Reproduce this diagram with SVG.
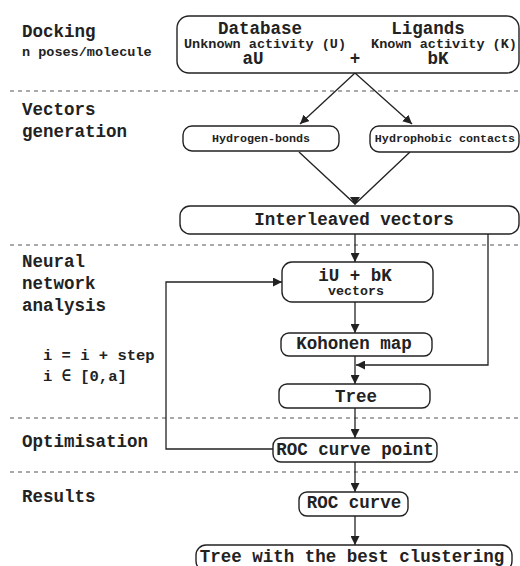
<svg xmlns="http://www.w3.org/2000/svg" width="520" height="566" viewBox="0 0 520 566">
<defs>
<marker id="ah" viewBox="0 0 10 10" refX="10" refY="5" markerWidth="9" markerHeight="9" markerUnits="userSpaceOnUse" orient="auto">
<path d="M0,0 L10,5 L0,10 z" fill="#222"/>
</marker>
<style>
text{font-family:"Liberation Mono","DejaVu Sans Mono",monospace;font-weight:bold;fill:#222}
.l{font-size:17.5px}
.m{font-size:13.5px}
.s{font-size:11.7px}
.c{text-anchor:middle}
.box{fill:#fff;stroke:#222;stroke-width:1.4}
.sep{stroke:#555;stroke-width:1.2;stroke-dasharray:4 4;fill:none}
.con{stroke:#222;stroke-width:1.3;fill:none}
</style>
</defs>
<rect width="520" height="566" fill="#fff"/>
<g id="separators">
<line class="sep" x1="10" y1="91" x2="520" y2="91"/>
<line class="sep" x1="10" y1="245" x2="520" y2="245"/>
<line class="sep" x1="10" y1="418" x2="520" y2="418"/>
<line class="sep" x1="10" y1="472" x2="520" y2="472"/>
</g>
<g id="labels">
<text class="l" x="22" y="37">Docking</text>
<text class="m" x="22" y="56">n poses/molecule</text>
<text class="l" x="22" y="115">Vectors</text>
<text class="l" x="22" y="137">generation</text>
<text class="l" x="22" y="267">Neural</text>
<text class="l" x="22" y="289">network</text>
<text class="l" x="22" y="311">analysis</text>
<text x="43" y="360" style="font-size:15.5px">i = i + step</text>
<text x="43" y="381" style="font-size:15.5px">i ∈ [0,a]</text>
<text class="l" x="22" y="447">Optimisation</text>
<text class="l" x="22" y="502">Results</text>
</g>
<g id="connectors">
<line class="con" x1="355" y1="73" x2="300" y2="124" marker-end="url(#ah)"/>
<line class="con" x1="355" y1="73" x2="412" y2="124" marker-end="url(#ah)"/>
<polyline class="con" points="299,152 355,204 410,152"/>
<path d="M350,197 L360,197 L355,205 z" fill="#222"/>
<line class="con" x1="355" y1="234" x2="355" y2="262" marker-end="url(#ah)"/>
<polyline class="con" points="488,234 488,365 356,365" marker-end="url(#ah)"/>
<line class="con" x1="355" y1="302" x2="355" y2="333" marker-end="url(#ah)"/>
<line class="con" x1="355" y1="356" x2="355" y2="384" marker-end="url(#ah)"/>
<line class="con" x1="355" y1="408" x2="355" y2="438" marker-end="url(#ah)"/>
<polyline class="con" points="273,449 166,449 166,282 282,282" marker-end="url(#ah)"/>
<line class="con" x1="355" y1="462" x2="355" y2="492" marker-end="url(#ah)"/>
<line class="con" x1="355" y1="516" x2="355" y2="545" marker-end="url(#ah)"/>
</g>
<g id="docking">
<rect class="box" x="177" y="16" width="342" height="57" rx="12"/>
<text class="l c" x="260" y="34">Database</text>
<text class="l c" x="428" y="34">Ligands</text>
<text class="m c" x="265" y="47.5">Unknown activity (U)</text>
<text class="m c" x="444" y="47.5">Known activity (K)</text>
<text class="l c" x="253" y="64">aU</text>
<text class="l c" x="355" y="64">+</text>
<text class="l c" x="438" y="64">bK</text>
</g>
<g id="hbonds">
<rect class="box" x="183" y="126" width="156" height="25" rx="9"/>
<text class="s c" x="261" y="142">Hydrogen-bonds</text>
</g>
<g id="hydrophobic">
<rect class="box" x="370" y="126" width="149" height="26" rx="9"/>
<text class="s c" x="445" y="142">Hydrophobic contacts</text>
</g>
<g id="interleaved">
<rect class="box" x="180" y="206" width="339" height="28" rx="10"/>
<text class="l c" x="354" y="225">Interleaved vectors</text>
</g>
<g id="iu">
<rect class="box" x="282" y="262" width="151" height="40" rx="10"/>
<text class="l c" x="355" y="281">iU + bK</text>
<text class="c" x="356" y="295" style="font-size:13.3px">vectors</text>
</g>
<g id="kohonen">
<rect class="box" x="281" y="333" width="151" height="23" rx="8"/>
<text class="l c" x="354" y="349">Kohonen map</text>
</g>
<g id="tree">
<rect class="box" x="279" y="384" width="151" height="24" rx="8"/>
<text class="l c" x="356" y="402">Tree</text>
</g>
<g id="rocpoint">
<rect class="box" x="273" y="438" width="164" height="24" rx="8"/>
<text class="l c" x="355" y="455">ROC curve point</text>
</g>
<g id="roccurve">
<rect class="box" x="299" y="492" width="109" height="24" rx="8"/>
<text class="l c" x="354" y="508">ROC curve</text>
</g>
<g id="best">
<rect class="box" x="196" y="545" width="316" height="26" rx="10"/>
<text class="l c" x="352" y="562">Tree with the best clustering</text>
</g>
</svg>
